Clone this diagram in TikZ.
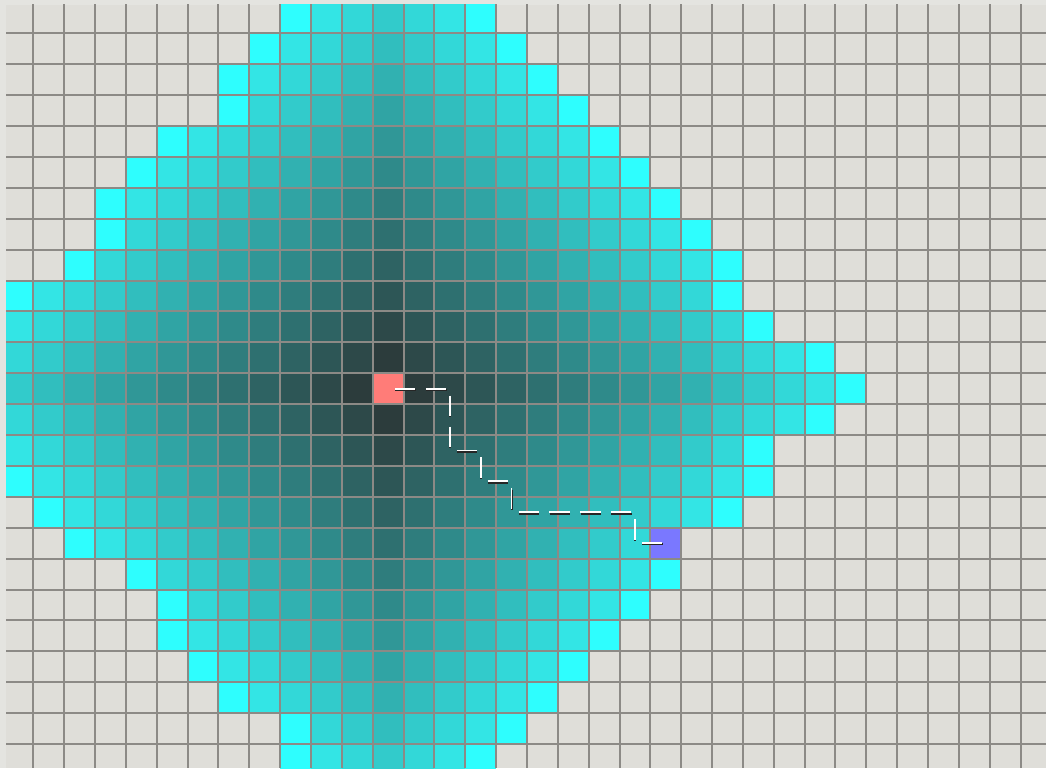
\documentclass[tikz,border=0pt]{standalone}
\begin{document}
\begin{tikzpicture}[x=1pt,y=-1pt,
  gridline/.style={draw=gridc,line width=2pt},
  cellbox/.style={rectangle,inner sep=0pt,minimum width=30.85pt,minimum height=30.9pt,draw=none},
  pathshadow/.style={draw=black!85,line width=2pt,shorten <=7pt,shorten >=3.5pt},
  pathwhite/.style={draw=white,line width=1.8pt,shorten <=7pt,shorten >=3.5pt}]
\definecolor{bgc}{HTML}{DFDED9}
\definecolor{marginc}{HTML}{E4E4E0}
\definecolor{gridc}{HTML}{8C8A86}
\definecolor{frontc}{RGB}{46,254,254}
\definecolor{startc}{RGB}{255,124,120}
\definecolor{goalc}{RGB}{122,120,255}
\useasboundingbox (0,0) rectangle (1046,768);
\fill[marginc] (0,0) rectangle (1046,768);
\begin{scope}
\clip (6,5) rectangle (1046,768);
\fill[bgc] (6,5) rectangle (1046,768);
% explored cells, row / first column / last column
\foreach \r/\a/\b in {0/9/15, 1/8/16, 2/7/17, 3/7/18, 4/5/19, 5/4/20, 6/3/21,
  7/3/22, 8/2/23, 9/0/23, 10/-1/24, 11/-2/26, 12/-3/27, 13/-2/26, 14/-1/24,
  15/0/24, 16/1/23, 17/2/21, 18/4/21, 19/5/20, 20/5/19, 21/6/18, 22/7/17,
  23/9/16, 24/9/15}{
  \pgfmathtruncatemacro\s{max(\a,0)}
  \foreach \c in {\s,...,\b}{
    \pgfmathtruncatemacro\d{abs(\c-12)+abs(\r-12)}
    \pgfmathtruncatemacro\fr{(\d>14) || ((\d>13) && ((\c==\a) || (\c==\b)))}
    \ifnum\fr=1
      \colorlet{cc}{frontc}
    \else
      \pgfmathtruncatemacro\G{47+13*\d}
      \pgfmathtruncatemacro\R{44+0.5*\d}
      \definecolor{cc}{RGB}{\R,\G,\G}
    \fi
    \fill[cc] (2.5+30.85*\c, 2.4+30.9*\r) rectangle ++(30.85,30.9);
  }
}
% start and goal
\node[cellbox,fill=startc] (start) at (2.5+30.85*12+15.425, 2.4+30.9*12+15.45) {};
\node[cellbox,fill=goalc] (goal) at (2.5+30.85*21+15.425, 2.4+30.9*17+15.45) {};
% grid
\foreach \k in {1,...,33}{
  \draw[gridline] (2.5+30.85*\k, 0) -- ++(0,768);
}
\foreach \k in {1,...,24}{
  \draw[gridline] (0, 2.4+30.9*\k) -- ++(1046,0);
}
\end{scope}
% path
\foreach [count=\i from 0] \c/\r in {12/12,13/12,14/12,14/13,14/14,15/14,15/15,
  16/15,16/16,17/16,18/16,19/16,20/16,20/17,21/17}{
  \coordinate (p\i) at (2.5+30.85*\c+15.425, 2.4+30.9*\r+15.45);
}
\foreach \i in {0,...,13}{
  \pgfmathtruncatemacro\j{\i+1}
  \draw[pathshadow] ([shift={(0.3,1.3)}]p\i) -- ([shift={(0.3,1.3)}]p\j);
  \draw[pathwhite] (p\i) -- (p\j);
}
\end{tikzpicture}
\end{document}
